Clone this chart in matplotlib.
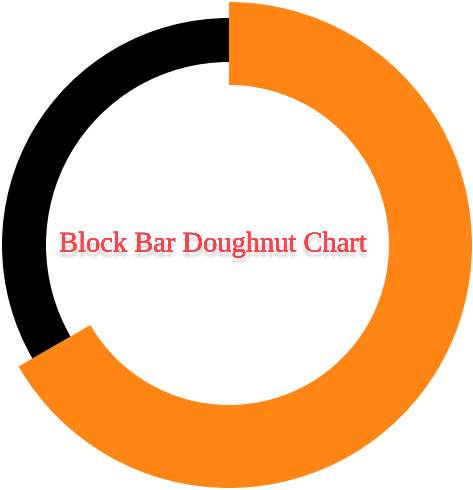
import matplotlib
matplotlib.use("Agg")
import matplotlib.pyplot as plt
import matplotlib.patheffects as pe

labels = ["Block A", "Block B"]
values = [2, 1]
colors = ["#ff8615", "#000000"]
title = "Block Bar Doughnut Chart"

W, H = 473, 490
cx, cy = 229, 245

fig = plt.figure(figsize=(W / 100, H / 100), dpi=100)
ax = fig.add_axes([0, 0, 1, 1])

# orange ring (big), black ring (thinner, inside)
ax.pie(values, radius=243, startangle=90, counterclock=False,
       colors=[colors[0], "none"], wedgeprops=dict(width=83, linewidth=0))
ax.pie(values, radius=227, startangle=90, counterclock=False,
       colors=["none", colors[1]], wedgeprops=dict(width=44, linewidth=0))

ax.set_aspect("auto")
ax.set_xlim(-cx, W - cx)
ax.set_ylim(-(H - cy), cy)
ax.axis("off")

# soft shadow: several faint offset copies
shadow = []
for dx, dy in [(0, -3), (1, -4), (-1, -4), (0, -5), (2, -3), (-2, -3)]:
    shadow.append(pe.withSimplePatchShadow(offset=(dx, dy), shadow_rgbFace="#888888", alpha=0.08))
ax.text(213 - cx, cy - 245, title, ha="center", va="center",
        fontsize=20.5, family="Liberation Serif", color="#f2474f",
        path_effects=shadow + [pe.Normal()])

fig.savefig("out.png", dpi=100)
